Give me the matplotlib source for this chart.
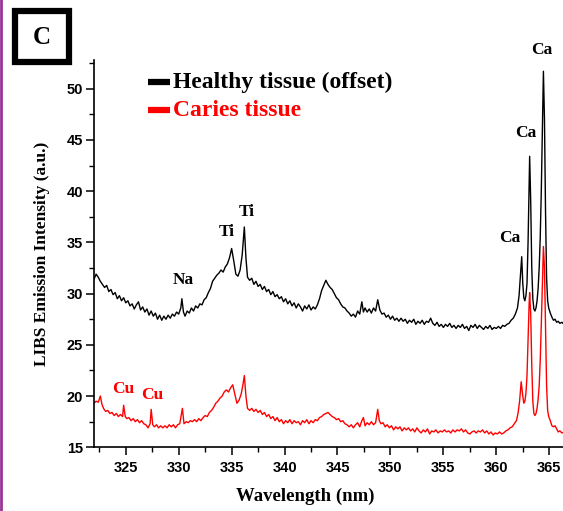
import matplotlib
matplotlib.use("Agg")
from matplotlib import pyplot as plt
from matplotlib.ticker import MultipleLocator
from matplotlib.patches import Rectangle
from matplotlib.lines import Line2D

# healthy tissue spectrum (offset)
healthy_wl = [
    322.0, 322.2, 322.4, 322.6, 322.8, 323.0, 323.2, 323.4, 323.6, 323.8,
    324.0, 324.2, 324.4, 324.6, 324.8, 325.0, 325.2, 325.4, 325.6, 325.8,
    326.0, 326.2, 326.4, 326.6, 326.8, 327.0, 327.2, 327.4, 327.6, 327.8,
    328.0, 328.2, 328.4, 328.6, 328.8, 329.0, 329.2, 329.4, 329.6, 329.8,
    330.0, 330.2, 330.3, 330.45, 330.6, 330.8, 331.0, 331.2, 331.4, 331.6,
    331.8, 332.0, 332.2, 332.4, 332.6, 332.8, 333.0, 333.2, 333.4, 333.6,
    333.8, 334.0, 334.2, 334.4, 334.6, 334.8, 335.0, 335.2, 335.4, 335.6,
    335.8, 336.0, 336.2, 336.35, 336.5, 336.7, 336.9, 337.1, 337.3, 337.5,
    337.7, 337.9, 338.1, 338.3, 338.5, 338.7, 338.9, 339.1, 339.3, 339.5,
    339.7, 339.9, 340.1, 340.3, 340.5, 340.7, 340.9, 341.1, 341.3, 341.5,
    341.7, 341.9, 342.1, 342.3, 342.5, 342.7, 342.9, 343.1, 343.3, 343.5,
    343.7, 343.9, 344.1, 344.3, 344.5, 344.7, 344.9, 345.1, 345.3, 345.5,
    345.7, 345.9, 346.1, 346.3, 346.5, 346.7, 346.9, 347.1, 347.3, 347.45,
    347.6, 347.8, 348.0, 348.2, 348.4, 348.6, 348.8, 349.0, 349.2, 349.4,
    349.6, 349.8, 350.0, 350.2, 350.4, 350.6, 350.8, 351.0, 351.2, 351.4,
    351.6, 351.8, 352.0, 352.2, 352.4, 352.6, 352.8, 353.0, 353.2, 353.4,
    353.6, 353.8, 354.0, 354.2, 354.4, 354.6, 354.8, 355.0, 355.2, 355.4,
    355.6, 355.8, 356.0, 356.2, 356.4, 356.6, 356.8, 357.0, 357.2, 357.4,
    357.6, 357.8, 358.0, 358.2, 358.4, 358.6, 358.8, 359.0, 359.2, 359.4,
    359.6, 359.8, 360.0, 360.2, 360.4, 360.6, 360.8, 361.0, 361.2, 361.4,
    361.6, 361.8, 362.0, 362.15, 362.3, 362.4, 362.5, 362.6, 362.7, 362.8,
    362.9, 363.0, 363.1, 363.15, 363.25, 363.35, 363.45, 363.55, 363.65, 363.75,
    363.85, 363.95, 364.05, 364.15, 364.25, 364.35, 364.45, 364.55, 364.65, 364.75,
    364.85, 364.95, 365.1, 365.25, 365.4, 365.55, 365.7, 365.85, 366.0, 366.2,
    366.4,
]
healthy_int = [
    31.4, 31.9, 31.6, 31.2, 30.9, 30.6, 30.8, 30.2, 30.4, 29.9,
    30.1, 29.5, 29.8, 29.3, 29.6, 29.1, 29.3, 28.8, 29.0, 28.5,
    28.9, 29.2, 28.4, 28.7, 28.2, 28.5, 27.9, 28.3, 27.8, 28.1,
    27.5, 27.9, 27.4, 27.8, 27.5, 27.9, 27.6, 28.0, 27.8, 28.2,
    28.0, 28.6, 29.5, 28.2, 27.8, 28.3, 28.1, 28.6, 28.3, 28.8,
    28.6, 29.0, 28.9, 29.4, 29.6, 30.1, 30.5, 31.2, 31.5, 31.8,
    32.0, 32.3, 32.1, 32.6, 32.9, 33.5, 34.4, 33.2, 31.9, 31.7,
    32.3, 33.8, 36.5, 33.5, 31.6, 31.3, 31.5, 30.9, 31.2, 30.7,
    30.9, 30.4, 30.7, 30.2, 30.4, 29.9, 30.2, 29.7, 29.9, 29.5,
    29.7, 29.2, 29.5, 29.0, 29.3, 28.8, 29.1, 28.6, 29.0, 28.7,
    28.3, 28.8, 28.5, 28.9, 28.4, 28.7, 28.5, 28.9, 29.5, 30.3,
    30.8, 31.3, 30.9, 30.6, 30.4, 30.0, 29.6, 29.4, 29.0, 28.7,
    28.6, 28.3, 28.1, 27.8, 28.0, 27.7, 28.3, 28.0, 29.2, 28.2,
    28.6, 28.2, 28.5, 28.1, 28.6, 28.3, 29.4, 28.4, 28.0, 28.1,
    27.7, 27.9, 27.5, 27.8, 27.4, 27.6, 27.3, 27.6, 27.3, 27.5,
    27.1, 27.4, 27.2, 27.5, 27.0, 27.3, 27.1, 27.4, 27.0, 27.3,
    27.2, 27.6, 27.1, 26.9, 27.2, 26.8, 27.0, 26.7, 27.0, 26.8,
    27.1, 26.7, 26.9, 26.6, 26.9, 26.7, 27.0, 26.6, 26.8, 26.4,
    26.9, 26.7, 27.0, 26.6, 26.9, 26.7, 26.5, 26.8, 26.6, 26.9,
    26.5, 26.7, 26.6, 26.8, 26.6, 26.9, 26.8, 27.0, 27.1, 27.4,
    27.6, 28.0, 28.6, 29.8, 32.0, 33.6, 31.0, 29.6, 29.3, 29.8,
    31.0, 35.0, 41.0, 43.4, 39.0, 32.5, 29.5, 28.5, 28.3, 28.6,
    29.3, 30.5, 32.5, 35.5, 40.0, 46.0, 51.7, 47.0, 38.0, 31.5,
    29.3, 28.6, 28.1, 27.7, 27.4, 27.5, 27.2, 27.3, 27.1, 27.2,
    27.0,
]

# caries tissue spectrum
caries_wl = [
    322.0, 322.2, 322.4, 322.6, 322.75, 322.9, 323.1, 323.3, 323.5, 323.7,
    323.9, 324.1, 324.3, 324.5, 324.7, 324.8, 324.95, 325.1, 325.3, 325.5,
    325.7, 325.9, 326.1, 326.3, 326.5, 326.7, 326.9, 327.1, 327.3, 327.4,
    327.55, 327.7, 327.9, 328.1, 328.3, 328.5, 328.7, 328.9, 329.1, 329.3,
    329.5, 329.7, 329.9, 330.1, 330.35, 330.5, 330.7, 330.9, 331.1, 331.3,
    331.5, 331.7, 331.9, 332.1, 332.3, 332.5, 332.7, 332.9, 333.1, 333.3,
    333.5, 333.7, 333.9, 334.1, 334.3, 334.5, 334.7, 334.9, 335.1, 335.3,
    335.5, 335.7, 335.9, 336.05, 336.2, 336.35, 336.5, 336.7, 336.9, 337.1,
    337.3, 337.5, 337.7, 337.9, 338.1, 338.3, 338.5, 338.7, 338.9, 339.1,
    339.3, 339.5, 339.7, 339.9, 340.1, 340.3, 340.5, 340.7, 340.9, 341.1,
    341.3, 341.5, 341.7, 341.9, 342.1, 342.3, 342.5, 342.7, 342.9, 343.1,
    343.3, 343.5, 343.7, 343.9, 344.1, 344.3, 344.5, 344.7, 344.9, 345.1,
    345.3, 345.5, 345.7, 345.9, 346.1, 346.3, 346.5, 346.7, 346.9, 347.1,
    347.3, 347.45, 347.6, 347.8, 348.0, 348.2, 348.4, 348.6, 348.8, 348.95,
    349.1, 349.3, 349.5, 349.7, 349.9, 350.1, 350.3, 350.5, 350.7, 350.9,
    351.1, 351.3, 351.5, 351.7, 351.9, 352.1, 352.3, 352.5, 352.7, 352.9,
    353.1, 353.3, 353.5, 353.7, 353.9, 354.1, 354.3, 354.5, 354.7, 354.9,
    355.1, 355.3, 355.5, 355.7, 355.9, 356.1, 356.3, 356.5, 356.7, 356.9,
    357.1, 357.3, 357.5, 357.7, 357.9, 358.1, 358.3, 358.5, 358.7, 358.9,
    359.1, 359.3, 359.5, 359.7, 359.9, 360.1, 360.3, 360.5, 360.7, 360.9,
    361.1, 361.3, 361.5, 361.7, 361.9, 362.05, 362.2, 362.35, 362.5, 362.6,
    362.7, 362.8, 362.9, 363.0, 363.1, 363.15, 363.25, 363.35, 363.45, 363.55,
    363.65, 363.75, 363.85, 363.95, 364.05, 364.15, 364.25, 364.35, 364.45, 364.55,
    364.65, 364.75, 364.85, 364.95, 365.1, 365.25, 365.4, 365.55, 365.7, 365.85,
    366.0, 366.2, 366.4,
]
caries_int = [
    19.3, 19.5, 19.4, 20.0, 19.2, 18.8, 18.5, 18.6, 18.3, 18.4,
    18.1, 18.3, 18.0, 18.2, 18.0, 19.1, 18.0, 17.8, 17.9, 17.6,
    17.8, 17.5, 17.7, 17.4, 17.6, 17.3, 17.2, 16.9, 17.3, 18.7,
    17.2, 17.0, 17.2, 16.9, 17.1, 16.9, 17.1, 16.9, 17.2, 17.0,
    17.2, 16.9, 17.2, 17.3, 18.8, 17.3, 17.5, 17.4, 17.6, 17.5,
    17.7, 17.5, 17.8, 17.6, 17.9, 18.1, 18.0, 18.4, 18.6, 18.9,
    19.3, 19.5, 19.8, 20.0, 20.4, 20.6, 20.4, 20.8, 21.1, 20.2,
    19.3, 19.6, 20.2, 21.0, 22.0, 20.0, 18.8, 18.6, 18.8, 18.5,
    18.7, 18.4, 18.6, 18.2, 18.4, 18.0, 18.2, 17.8, 18.0, 17.6,
    17.9, 17.5, 17.7, 17.3, 17.6, 17.4, 17.7, 17.3, 17.6, 17.4,
    17.5, 17.2, 17.6, 17.4, 17.7, 17.3, 17.6, 17.4, 17.7, 17.6,
    17.9, 18.0, 18.2, 18.3, 18.4, 18.2, 18.0, 17.9, 17.7, 17.8,
    17.5, 17.6, 17.3, 17.2, 17.0, 17.2, 16.9, 17.2, 17.4, 17.0,
    17.6, 17.9, 17.1, 17.4, 17.2, 17.5, 17.2, 17.4, 18.7, 17.6,
    17.3, 17.4, 17.0, 17.2, 16.9, 17.1, 16.7, 17.0, 16.8, 17.0,
    16.6, 16.9, 16.7, 16.9, 16.6, 16.8, 16.5, 16.9, 16.6, 16.4,
    16.7, 16.5, 16.8, 16.3, 16.6, 16.5, 16.7, 16.4, 16.6, 16.5,
    16.7, 16.5, 16.6, 16.4, 16.7, 16.5, 16.7, 16.6, 16.8, 16.5,
    16.7, 16.4, 16.3, 16.5, 16.6, 16.4, 16.6, 16.5, 16.7, 16.4,
    16.6, 16.3, 16.5, 16.2, 16.4, 16.3, 16.5, 16.3, 16.4, 16.6,
    16.7, 16.9, 17.0, 17.3, 17.6, 18.3, 19.5, 21.4, 20.0, 19.3,
    19.5, 20.3, 22.0, 25.5, 29.0, 30.1, 28.0, 23.0, 19.5, 18.3,
    18.1, 18.3, 18.8, 19.7, 21.0, 23.5, 27.0, 31.0, 34.6, 32.5,
    26.5, 21.0, 18.6, 18.0, 17.6, 17.1, 17.0, 17.1, 16.8, 16.5,
    16.6, 16.4, 16.5,
]

# peak labels: (text, wavelength, intensity, colour)
peak_labels = [
    ("Na", 330.4, 31.3, "black"),
    ("Ti", 334.5, 36.0, "black"),
    ("Ti", 336.4, 38.0, "black"),
    ("Ca", 361.3, 35.4, "black"),
    ("Ca", 362.75, 45.7, "black"),
    ("Ca", 364.3, 53.8, "black"),
    ("Cu", 324.8, 20.7, "red"),
    ("Cu", 327.5, 20.1, "red"),
]

serif = "Liberation Serif"
sans = "Liberation Sans"

fig = plt.figure(figsize=(5.63, 5.11), dpi=100)
ax = fig.add_axes([94 / 563, 1 - 447.3 / 511, 1 - 94 / 563, (447.3 - 60) / 511])

ax.plot(healthy_wl, healthy_int, color="black", lw=1.0)
ax.plot(caries_wl, caries_int, color="red", lw=1.0)

ax.set_xlim(322.0, 366.3)
ax.set_ylim(15, 52.8)
ax.xaxis.set_major_locator(MultipleLocator(5))
ax.xaxis.set_minor_locator(MultipleLocator(2.5))
ax.yaxis.set_major_locator(MultipleLocator(5))
ax.yaxis.set_minor_locator(MultipleLocator(2.5))
ax.tick_params(which="major", direction="out", length=6, width=1.1,
               labelsize=10.5, pad=2)
ax.tick_params(which="minor", direction="out", length=3.5, width=1.0)
ax.tick_params(axis="x", which="major", pad=4)
for lab in ax.get_xticklabels() + ax.get_yticklabels():
    lab.set_fontfamily(sans)
    lab.set_fontweight("bold")

for s in ["top", "right"]:
    ax.spines[s].set_visible(False)
for s in ["left", "bottom"]:
    ax.spines[s].set_linewidth(1.2)

ax.set_xlabel("Wavelength (nm)", family=serif, fontweight="bold",
              fontsize=13.5)
ax.xaxis.set_label_coords((305 - 94) / 469, -0.105)
ax.set_ylabel("LIBS Emission Intensity (a.u.)", family=serif,
              fontweight="bold", fontsize=12.5)
ax.yaxis.set_label_coords(-0.094, 0.5)

for txt, x, y, c in peak_labels:
    ax.text(x, y, txt, color=c, family=serif, fontweight="bold",
            fontsize=12.5, ha="center", va="center", clip_on=False)

# legend entries
fig.add_artist(Line2D([148 / 563, 170 / 563], [1 - 82 / 511, 1 - 82 / 511],
                      color="black", lw=4.5, solid_capstyle="butt"))
fig.text(173 / 563, 1 - 82 / 511, "Healthy tissue (offset)", color="black",
         family=serif, fontweight="bold", fontsize=17, va="center")
fig.add_artist(Line2D([148 / 563, 170 / 563], [1 - 110 / 511, 1 - 110 / 511],
                      color="red", lw=4.5, solid_capstyle="butt"))
fig.text(173 / 563, 1 - 110 / 511, "Caries tissue", color="red",
         family=serif, fontweight="bold", fontsize=17, va="center")

# panel label box
fig.add_artist(Rectangle((15 / 563, 1 - 62 / 511), 54 / 563, 51 / 511,
                         fill=False, edgecolor="black", lw=4.5))
fig.text(42 / 563, 1 - 37 / 511, "C", family=serif, fontweight="bold",
         fontsize=18, ha="center", va="center")

# purple page border on the left edge
fig.add_artist(Line2D([1 / 563, 1 / 563], [0, 1], color="#993399", lw=2))

fig.savefig("out.png", dpi=100)
